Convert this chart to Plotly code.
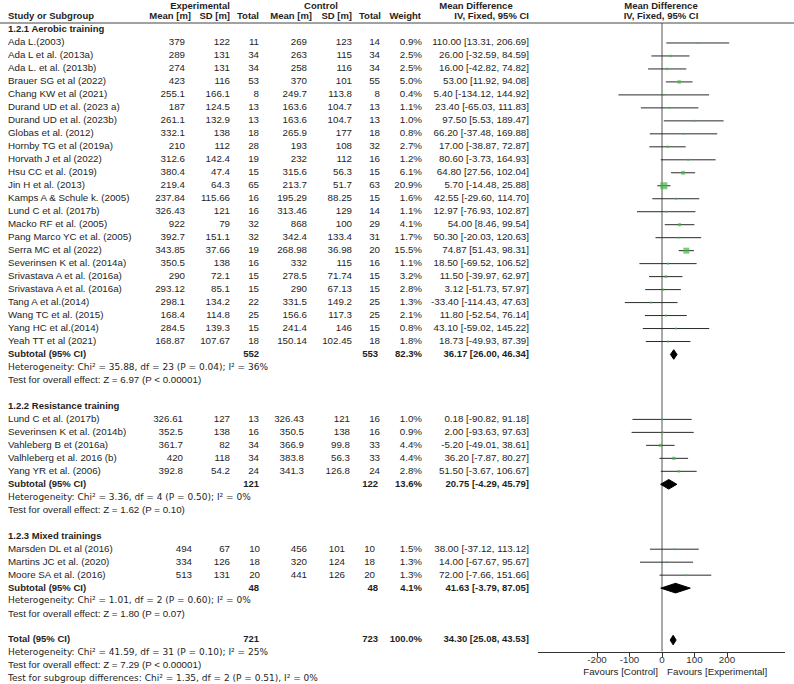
import math
import plotly.graph_objects as go

# ---------------- DATA ----------------
study = [
    "Ada L.(2003)", "Ada L et al. (2013a)", "Ada L. et al. (2013b)", "Brauer SG et al (2022)",
    "Chang KW et al (2021)", "Durand UD et al. (2023 a)", "Durand UD et al. (2023b)",
    "Globas et al. (2012)", "Hornby TG et al (2019a)", "Horvath J et al (2022)",
    "Hsu CC et al. (2019)", "Jin H et al. (2013)", "Kamps A & Schule k. (2005)",
    "Lund C et al. (2017b)", "Macko RF et al. (2005)", "Pang Marco YC et al. (2005)",
    "Serra MC et al (2022)", "Severinsen K et al. (2014a)", "Srivastava A et al. (2016a)",
    "Srivastava A et al. (2016a)", "Tang A et al.(2014)", "Wang TC et al. (2015)",
    "Yang HC et al.(2014)", "Yeah TT et al (2021)",
    "Lund C et al. (2017b)", "Severinsen K et al. (2014b)", "Vahleberg B et (2016a)",
    "Valhleberg et al. 2016 (b)", "Yang YR et al. (2006)",
    "Marsden DL et al (2016)", "Martins JC et al. (2020)", "Moore SA et al. (2016)",
]
study_group = [0] * 24 + [1] * 5 + [2] * 3
exp_mean = ["379", "289", "274", "423", "255.1", "187", "261.1", "332.1", "210", "312.6",
            "380.4", "219.4", "237.84", "326.43", "922", "392.7", "343.85", "350.5", "290",
            "293.12", "298.1", "168.4", "284.5", "168.87",
            "326.61", "352.5", "361.7", "420", "392.8",
            "494", "334", "513"]
exp_sd = ["122", "131", "131", "116", "166.1", "124.5", "132.9", "138", "112", "142.4",
          "47.4", "64.3", "115.66", "121", "79", "151.1", "37.66", "138", "72.1", "85.1",
          "134.2", "114.8", "139.3", "107.67",
          "127", "138", "82", "118", "54.2",
          "67", "126", "131"]
exp_n = [11, 34, 34, 53, 8, 13, 13, 18, 28, 19, 15, 65, 16, 16, 32, 32, 19, 16, 15, 15,
         22, 25, 15, 18,
         13, 16, 34, 34, 24,
         10, 18, 20]
ctl_mean = ["269", "263", "258", "370", "249.7", "163.6", "163.6", "265.9", "193", "232",
            "315.6", "213.7", "195.29", "313.46", "868", "342.4", "268.98", "332", "278.5",
            "290", "331.5", "156.6", "241.4", "150.14",
            "326.43", "350.5", "366.9", "383.8", "341.3",
            "456", "320", "441"]
ctl_sd = ["123", "115", "116", "101", "113.8", "104.7", "104.7", "177", "108", "112",
          "56.3", "51.7", "88.25", "129", "100", "133.4", "36.98", "115", "71.74", "67.13",
          "149.2", "117.3", "146", "102.45",
          "121", "138", "99.8", "56.3", "126.8",
          "101", "124", "126"]
ctl_n = [14, 34, 34, 55, 8, 13, 13, 18, 32, 16, 15, 63, 15, 14, 29, 31, 20, 16, 15, 15,
         25, 25, 15, 18,
         16, 16, 33, 33, 24,
         10, 18, 20]
weight = [0.9, 2.5, 2.5, 5.0, 0.4, 1.1, 1.0, 0.8, 2.7, 1.2, 6.1, 20.9, 1.6, 1.1, 4.1, 1.7,
          15.5, 1.1, 3.2, 2.8, 1.3, 2.1, 0.8, 1.8,
          1.0, 0.9, 4.4, 4.4, 2.8,
          1.5, 1.3, 1.3]
md = [110.00, 26.00, 16.00, 53.00, 5.40, 23.40, 97.50, 66.20, 17.00, 80.60, 64.80, 5.70,
      42.55, 12.97, 54.00, 50.30, 74.87, 18.50, 11.50, 3.12, -33.40, 11.80, 43.10, 18.73,
      0.18, 2.00, -5.20, 36.20, 51.50,
      38.00, 14.00, 72.00]
ci_lo = [13.31, -32.59, -42.82, 11.92, -134.12, -65.03, 5.53, -37.48, -38.87, -3.73, 27.56,
         -14.48, -29.60, -76.93, 8.46, -20.03, 51.43, -69.52, -39.97, -51.73, -114.43,
         -52.54, -59.02, -49.93,
         -90.82, -93.63, -49.01, -7.87, -3.67,
         -37.12, -67.67, -7.66]
ci_hi = [206.69, 84.59, 74.82, 94.08, 144.92, 111.83, 189.47, 169.88, 72.87, 164.93, 102.04,
         25.88, 114.70, 102.87, 99.54, 120.63, 98.31, 106.52, 62.97, 57.97, 47.63, 76.14,
         145.22, 87.39,
         91.18, 97.63, 38.61, 80.27, 106.67,
         113.12, 95.67, 151.66]

group_title = ["1.2.1 Aerobic training", "1.2.2 Resistance training", "1.2.3 Mixed trainings"]
sub_exp_n = [552, 121, 48]
sub_ctl_n = [553, 122, 48]
sub_weight = [82.3, 13.6, 4.1]
sub_md = [36.17, 20.75, 41.63]
sub_lo = [26.00, -4.29, -3.79]
sub_hi = [46.34, 45.79, 87.05]
sub_het = ["Heterogeneity: Chi² = 35.88, df = 23 (P = 0.04); I² = 36%",
           "Heterogeneity: Chi² = 3.36, df = 4 (P = 0.50); I² = 0%",
           "Heterogeneity: Chi² = 1.01, df = 2 (P = 0.60); I² = 0%"]
sub_test = ["Test for overall effect: Z = 6.97 (P < 0.00001)",
            "Test for overall effect: Z = 1.62 (P = 0.10)",
            "Test for overall effect: Z = 1.80 (P = 0.07)"]
total_exp_n = 721
total_ctl_n = 723
total_weight = 100.0
total_md = 34.30
total_lo = 25.08
total_hi = 43.53
total_het = "Heterogeneity: Chi² = 41.59, df = 31 (P = 0.10); I² = 25%"
total_test = "Test for overall effect: Z = 7.29 (P < 0.00001)"
subgroup_test = "Test for subgroup differences: Chi² = 1.35, df = 2 (P = 0.51), I² = 0%"
axis_ticks = [-200, -100, 0, 100, 200]
axis_ticktext = ["-200", "-100", "0", "100", "200"]
favours_left = "Favours [Control]"
favours_right = "Favours [Experimental]"

# ---------------- LAYOUT CONSTANTS ----------------
W, H = 794, 684
Y0, PITCH = 30.0, 12.98          # pixel y of line 0, line pitch
def ln(py):                      # pixel y -> line units
    return (py - Y0) / PITCH

FONT = "Arial"
FONT_CHI = "DejaVu Sans"
FS, FSB, FSC = 9.75, 9.5, 9
TXT = "#1e1e1e"
GREEN = "#45b649"
LINEC = "#2a2a2a"

X_NAME = 8
X_EM, X_ESD, X_EN = 185, 230, 259
X_CM, X_CSD, X_CN = 307, 352, 380
X_W, X_CI = 422, 529
# small per-group column shifts seen in the reference (mixed trainings block)
GROUP_SHIFT = {0: (0, 0, 0, 0, 0, 0), 1: (-2, 0, 0, -3, -2, 0), 2: (7, 0, 1, 0, -7, -5)}

PLOT_L, PLOT_R, ZERO_PX = 538, 785, 662
SCALE = 0.325   # px per unit
xr = [(PLOT_L - ZERO_PX) / SCALE, (PLOT_R - ZERO_PX) / SCALE]
AXIS_PY = 651.5
HDR1_PY, HDR2_PY = 6.5, 17

# ---------------- ROW ASSIGNMENT ----------------
items = {}
def put(x, line, text, align, style="reg"):
    items.setdefault((align, style), []).append((x, line, text))

def fmt_ci(m, lo, hi):
    return "%.2f [%.2f, %.2f]" % (m, lo, hi)

# headers
put(200, ln(HDR1_PY), "Experimental", "center", "bold")
put(321, ln(HDR1_PY), "Control", "center", "bold")
put(476, ln(HDR1_PY), "Mean Difference", "center", "bold")
put(661, ln(HDR1_PY), "Mean Difference", "center", "bold")
put(X_NAME, ln(HDR2_PY), "Study or Subgroup", "left", "bold")
put(191, ln(HDR2_PY), "Mean [m]", "right", "bold")
put(230, ln(HDR2_PY), "SD [m]", "right", "bold")
put(259, ln(HDR2_PY), "Total", "right", "bold")
put(312, ln(HDR2_PY), "Mean [m]", "right", "bold")
put(352, ln(HDR2_PY), "SD [m]", "right", "bold")
put(381, ln(HDR2_PY), "Total", "right", "bold")
put(421, ln(HDR2_PY), "Weight", "right", "bold")
put(X_CI, ln(HDR2_PY), "IV, Fixed, 95% CI", "right", "bold")
put(661, ln(HDR2_PY), "IV, Fixed, 95% CI", "center", "bold")

line = 0
study_line = [0] * len(study)
sub_line = []
for g in range(3):
    put(X_NAME, line, group_title[g], "left", "bold")
    line += 1
    s = GROUP_SHIFT[g]
    for i in range(len(study)):
        if study_group[i] != g:
            continue
        study_line[i] = line
        put(X_NAME, line, study[i], "left")
        put(X_EM + s[0], line, exp_mean[i], "right")
        put(X_ESD + s[1], line, exp_sd[i], "right")
        put(X_EN + s[2], line, str(exp_n[i]), "right")
        put(X_CM + s[3], line, ctl_mean[i], "right")
        put(X_CSD + s[4], line, ctl_sd[i], "right")
        put(X_CN + s[5], line, str(ctl_n[i]), "right")
        put(X_W, line, "%.1f%%" % weight[i], "right")
        put(X_CI, line, fmt_ci(md[i], ci_lo[i], ci_hi[i]), "right")
        line += 1
    sub_line.append(line)
    put(X_NAME, line, "Subtotal (95% CI)", "left", "bold")
    put(X_EN, line, str(sub_exp_n[g]), "right", "bold")
    put(X_CN - 2, line, str(sub_ctl_n[g]), "right", "bold")
    put(X_W, line, "%.1f%%" % sub_weight[g], "right", "bold")
    put(X_CI, line, fmt_ci(sub_md[g], sub_lo[g], sub_hi[g]), "right", "bold")
    line += 1
    put(X_NAME, line, sub_het[g], "left", "chi")
    line += 1
    put(X_NAME, line, sub_test[g], "left")
    line += 2
total_line = line
put(X_NAME, line, "Total (95% CI)", "left", "bold")
put(X_EN, line, str(total_exp_n), "right", "bold")
put(X_CN - 2, line, str(total_ctl_n), "right", "bold")
put(X_W, line, "%.1f%%" % total_weight, "right", "bold")
put(X_CI, line, fmt_ci(total_md, total_lo, total_hi), "right", "bold")
put(X_NAME, line + 1, total_het, "left", "chi")
put(X_NAME, line + 2, total_test, "left")
put(X_NAME, line + 3, subgroup_test, "left", "chi")
put(658, ln(673), favours_left, "right")
put(667, ln(673), favours_right, "left")

fig = go.Figure()
pos = {"left": "middle right", "right": "middle left", "center": "middle center"}
fonts = {"reg": dict(family=FONT, size=FS, color=TXT),
         "bold": dict(family=FONT, size=FSB, color=TXT),
         "chi": dict(family=FONT_CHI, size=FSC, color=TXT)}
for (align, style), v in items.items():
    txt = ["<b>%s</b>" % a[2] if style == "bold" else a[2] for a in v]
    fig.add_trace(go.Scatter(
        x=[a[0] for a in v], y=[a[1] for a in v], text=txt,
        mode="text", textposition=pos[align], cliponaxis=False,
        textfont=fonts[style], hoverinfo="skip", showlegend=False,
        xaxis="x", yaxis="y"))

# zero line
fig.add_trace(go.Scatter(x=[0, 0], y=[ln(23), ln(AXIS_PY)], mode="lines",
                         line=dict(color="#555555", width=1), hoverinfo="skip",
                         showlegend=False, xaxis="x2", yaxis="y"))

# CI lines
cx, cy = [], []
for i in range(len(study)):
    cx += [ci_lo[i], ci_hi[i], None]
    cy += [study_line[i], study_line[i], None]
fig.add_trace(go.Scatter(x=cx, y=cy, mode="lines", line=dict(color=LINEC, width=1),
                         hoverinfo="skip", showlegend=False, xaxis="x2", yaxis="y"))

# squares (area proportional to weight)
sizes = [max(2.0, 7.0 * math.sqrt(w / max(weight))) for w in weight]
fig.add_trace(go.Scatter(x=md, y=study_line, mode="markers",
                         marker=dict(symbol="square", size=sizes, color=GREEN,
                                     line=dict(width=0)),
                         hoverinfo="skip", showlegend=False, xaxis="x2", yaxis="y"))

# diamonds
DH = 0.37
dia = [(sub_lo[g], sub_md[g], sub_hi[g], sub_line[g]) for g in range(3)]
dia.append((total_lo, total_md, total_hi, total_line))
for lo, m, hi, yl in dia:
    fig.add_trace(go.Scatter(x=[lo, m, hi, m, lo], y=[yl, yl - DH, yl, yl + DH, yl],
                             mode="lines", fill="toself", fillcolor="black",
                             line=dict(color="black", width=1), hoverinfo="skip",
                             showlegend=False, xaxis="x2", yaxis="y"))

# tick labels of the forest axis
fig.add_trace(go.Scatter(x=axis_ticks, y=[ln(661)] * len(axis_ticks), text=axis_ticktext,
                         mode="text", textposition="middle center", cliponaxis=False,
                         textfont=dict(family=FONT, size=FS, color="#333333"),
                         hoverinfo="skip", showlegend=False, xaxis="x2", yaxis="y"))

fig.update_layout(
    width=W, height=H, margin=dict(l=0, r=0, t=0, b=0),
    paper_bgcolor="white", plot_bgcolor="rgba(0,0,0,0)",
    xaxis=dict(range=[0, W], domain=[0, 1], visible=False, fixedrange=True),
    yaxis=dict(range=[ln(H), ln(0)], domain=[0, 1], visible=False, fixedrange=True),
    xaxis2=dict(range=xr, domain=[PLOT_L / W, PLOT_R / W], anchor="free",
                position=1 - AXIS_PY / H, showline=True, linecolor="#333333",
                linewidth=1, ticks="outside", ticklen=4, tickcolor="#333333",
                tickvals=axis_ticks, showticklabels=False, showgrid=False,
                zeroline=False, fixedrange=True),
    shapes=[dict(type="line", xref="paper", yref="y", x0=0, x1=1,
                 y0=ln(23), y1=ln(23), line=dict(color="#444444", width=1))],
)

fig.write_html("out.html", config={"displayModeBar": False},
               post_script="document.body.style.margin='0';")
